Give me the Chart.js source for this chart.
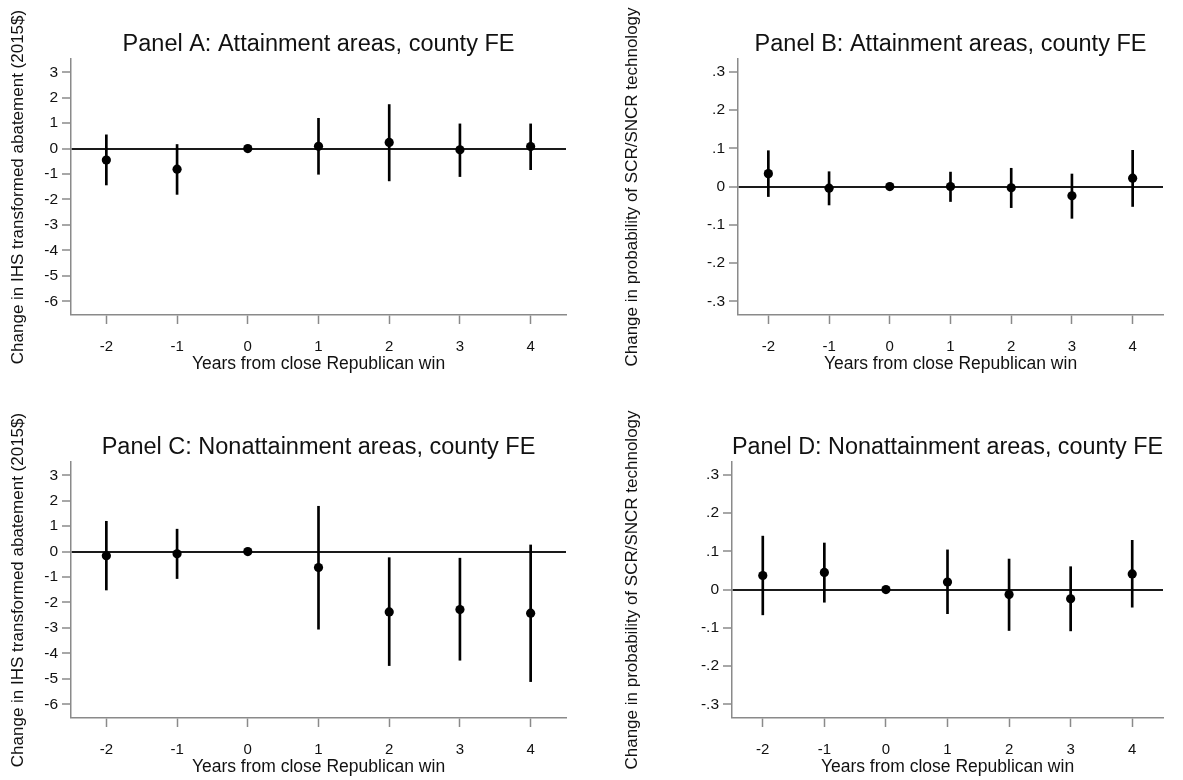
<!DOCTYPE html>
<html>
<head>
<meta charset="utf-8">
<title>Close Republican wins and abatement</title>
<script src="https://cdn.jsdelivr.net/npm/chart.js@4.4.1/dist/chart.umd.min.js"></script>
<style>
  html, body { margin: 0; padding: 0; background: #fff; }
  body { width: 1183px; height: 780px; position: relative; overflow: hidden; }
  .panel { position: absolute; }
</style>
</head>
<body>
<div class="panel" style="left:0;top:0;width:590px;height:400px"><canvas id="panelA" width="590" height="400"></canvas></div>
<div class="panel" style="left:600px;top:0;width:583px;height:400px"><canvas id="panelB" width="583" height="400"></canvas></div>
<div class="panel" style="left:0;top:403px;width:590px;height:377px"><canvas id="panelC" width="590" height="377"></canvas></div>
<div class="panel" style="left:600px;top:403px;width:583px;height:377px"><canvas id="panelD" width="583" height="377"></canvas></div>
<script>
const years = [-2, -1, 0, 1, 2, 3, 4];

// IHS transformed abatement, attainment areas (year 0 is the omitted period)
const estA = [-0.45, -0.81, 0, 0.09, 0.24, -0.05, 0.08];
const loA  = [-1.43, -1.80, null, -1.01, -1.27, -1.10, -0.83];
const hiA  = [0.54, 0.16, null, 1.19, 1.73, 0.97, 0.97];

// Probability of SCR/SNCR, attainment areas
const estB = [0.034, -0.004, 0, 0.000, -0.003, -0.024, 0.022];
const loB  = [-0.026, -0.048, null, -0.039, -0.055, -0.083, -0.052];
const hiB  = [0.094, 0.039, null, 0.038, 0.048, 0.033, 0.095];

// IHS transformed abatement, nonattainment areas
const estC = [-0.16, -0.09, 0, -0.63, -2.37, -2.28, -2.42];
const loC  = [-1.51, -1.06, null, -3.05, -4.48, -4.27, -5.11];
const hiC  = [1.19, 0.88, null, 1.78, -0.24, -0.26, 0.26];

// Probability of SCR/SNCR, nonattainment areas
const estD = [0.037, 0.045, 0, 0.020, -0.013, -0.024, 0.041];
const loD  = [-0.066, -0.033, null, -0.063, -0.107, -0.108, -0.046];
const hiD  = [0.140, 0.122, null, 0.104, 0.080, 0.060, 0.129];

const abateTicks = [-6, -5, -4, -3, -2, -1, 0, 1, 2, 3];
const probTicks = [-0.3, -0.2, -0.1, 0, 0.1, 0.2, 0.3];

const FONT = "'Liberation Sans', Arial, Helvetica, sans-serif";
const AXIS = '#8a8a8a';
const INK = '#111';

// Stata-style labels: .3 / -.3 instead of 0.3 / -0.3
const dropLeadingZero = v => String(v).replace(/^(-?)0\./, '$1.');

function buildPanel(id, p) {
  const points = years.map((x, i) => ({ x, y: p.est[i] }));
  const bars = years.map((x, i) => ({ x, y: p.lo[i] === null ? null : [p.lo[i], p.hi[i]] }));

  return new Chart(document.getElementById(id), {
    type: 'scatter',
    data: {
      datasets: [
        {
          type: 'scatter',
          data: points,
          pointRadius: 4.6,
          pointBackgroundColor: '#000',
          pointBorderWidth: 0,
          order: 0
        },
        {
          // confidence intervals as 2px floating bars
          type: 'bar',
          data: bars,
          backgroundColor: '#000',
          barThickness: 2,
          order: 1
        }
      ]
    },
    options: {
      responsive: false,
      animation: false,
      events: [],
      layout: { padding: { left: p.padLeft, right: p.padRight, top: 0, bottom: p.padBottom } },
      plugins: {
        legend: { display: false },
        tooltip: { enabled: false },
        title: {
          display: true,
          text: p.title,
          fullSize: false,
          color: INK,
          font: { family: FONT, size: 23.5, weight: 'normal' },
          padding: { top: 30, bottom: 0.8 }
        }
      },
      scales: {
        x: {
          type: 'linear',
          min: -2.5,
          max: 4.5,
          offset: false,
          afterBuildTicks: s => { s.ticks = years.map(v => ({ value: v })); },
          afterFit: s => { s.height = 60; },
          grid: { offset: false, drawOnChartArea: false, tickLength: 9, tickWidth: 1.5, tickColor: AXIS },
          border: { color: AXIS, width: 1.5 },
          ticks: { color: INK, font: { family: FONT, size: 15 }, padding: 14, maxRotation: 0 },
          title: {
            display: true,
            text: 'Years from close Republican win',
            color: INK,
            font: { family: FONT, size: 17.5 },
            padding: 0
          }
        },
        y: {
          type: 'linear',
          min: p.yMin,
          max: p.yMax,
          afterBuildTicks: s => { s.ticks = p.yTicks.map(v => ({ value: v })); },
          afterFit: s => { s.width = p.yWidth; },
          grid: {
            color: c => (c.tick && c.tick.value === 0 ? '#1a1a1a' : 'rgba(0,0,0,0)'),
            lineWidth: c => (c.tick && c.tick.value === 0 ? 2 : 0),
            tickLength: 9,
            tickWidth: 1.5,
            tickColor: AXIS
          },
          border: { color: AXIS, width: 1.5 },
          ticks: {
            color: INK,
            font: { family: FONT, size: 15.5 },
            padding: 4,
            callback: v => dropLeadingZero(v)
          },
          title: {
            display: true,
            text: p.yTitle,
            color: INK,
            font: { family: FONT, size: 17 },
            padding: { top: 0, bottom: 0 }
          }
        }
      }
    }
  });
}

const abateTitle = 'Change in IHS transformed abatement (2015$)';
const probTitle = 'Change in probability of SCR/SNCR technology';

buildPanel('panelA', {
  title: 'Panel A: Attainment areas, county FE',
  est: estA, lo: loA, hi: hiA,
  yTicks: abateTicks, yMin: -6.54, yMax: 3.52, yTitle: abateTitle,
  padLeft: 8, yWidth: 63, padRight: 24, padBottom: 25
});
buildPanel('panelB', {
  title: 'Panel B: Attainment areas, county FE',
  est: estB, lo: loB, hi: hiB,
  yTicks: probTicks, yMin: -0.336, yMax: 0.334, yTitle: probTitle,
  padLeft: 22, yWidth: 116, padRight: 20, padBottom: 25
});
buildPanel('panelC', {
  title: 'Panel C: Nonattainment areas, county FE',
  est: estC, lo: loC, hi: hiC,
  yTicks: abateTicks, yMin: -6.54, yMax: 3.52, yTitle: abateTitle,
  padLeft: 8, yWidth: 63, padRight: 24, padBottom: 2
});
buildPanel('panelD', {
  title: 'Panel D: Nonattainment areas, county FE',
  est: estD, lo: loD, hi: hiD,
  yTicks: probTicks, yMin: -0.336, yMax: 0.334, yTitle: probTitle,
  padLeft: 22, yWidth: 110, padRight: 20, padBottom: 2
});
</script>
</body>
</html>
